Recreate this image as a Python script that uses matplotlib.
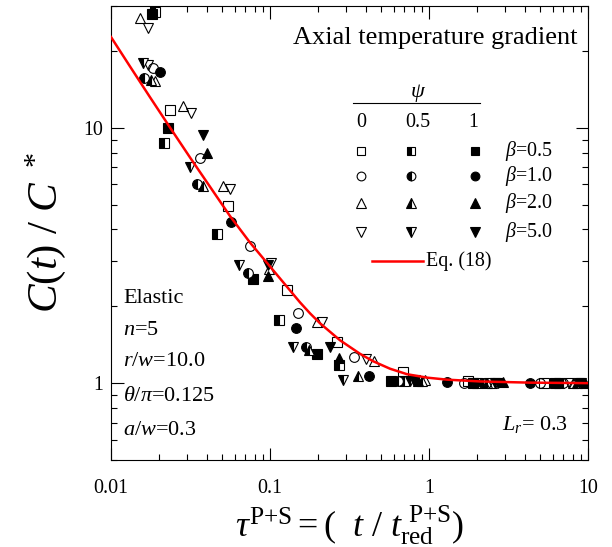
import matplotlib
matplotlib.use('Agg')
from matplotlib import pyplot as plt

plt.rcParams['font.family'] = ['Liberation Serif', 'DejaVu Serif']
plt.rcParams['mathtext.fontset'] = 'custom'
plt.rcParams['mathtext.rm'] = 'Liberation Serif'
plt.rcParams['mathtext.it'] = 'Liberation Serif:italic'
plt.rcParams['mathtext.bf'] = 'Liberation Serif:bold'

# Eq. (18) curve
eq_tau = [0.01, 0.01317, 0.01759, 0.0235, 0.03139, 0.04195, 0.05603, 0.07483,
          0.1, 0.1336, 0.1544, 0.1785, 0.2063, 0.2756, 0.3681, 0.4444, 0.5685,
          0.7271, 0.9714, 1.298, 2.093, 4.317, 10.0]
eq_c = [22.68, 17.39, 13.18, 10.03, 7.656, 5.877, 4.512, 3.554,
        2.864, 2.308, 2.072, 1.877, 1.716, 1.472, 1.303, 1.219, 1.139,
        1.084, 1.051, 1.032, 1.0154, 1.0045, 1.0]

# beta = 0.5 (squares)
b05_p0_tau = [0.0235, 0.0544, 0.128, 0.264, 0.686, 1.75, 5.3]
b05_p0_c = [11.7, 4.96, 2.31, 1.45, 1.11, 1.02, 1.0]
b05_p05_tau = [0.0188, 0.0215, 0.0464, 0.114, 0.270, 0.70, 2.0, 6.2]
b05_p05_c = [28.3, 8.7, 3.85, 1.76, 1.18, 1.02, 1.0, 1.0]
b05_p1_tau = [0.0180, 0.0228, 0.078, 0.197, 0.58, 1.9, 6.6]
b05_p1_c = [28.0, 10.0, 2.55, 1.30, 1.02, 1.0, 1.0]

# beta = 1.0 (circles)
b10_p0_tau = [0.0184, 0.0363, 0.075, 0.150, 0.338, 1.65, 5.0]
b10_p0_c = [17.2, 7.6, 3.43, 1.89, 1.27, 1.0, 1.0]
b10_p05_tau = [0.0161, 0.0347, 0.0728, 0.168, 0.64, 2.2, 7.0]
b10_p05_c = [15.7, 6.0, 2.69, 1.39, 1.02, 1.0, 1.0]
b10_p1_tau = [0.0203, 0.0567, 0.146, 0.42, 1.30, 4.3]
b10_p1_c = [16.6, 4.26, 1.65, 1.065, 1.01, 1.0]

# beta = 2.0 (up triangles)
b20_p0_tau = [0.0152, 0.0190, 0.0284, 0.0506, 0.099, 0.197, 0.45, 0.95, 2.5, 8.0]
b20_p0_c = [26.9, 15.3, 12.2, 5.9, 2.8, 1.73, 1.22, 1.03, 1.0, 1.0]
b20_p05_tau = [0.0178, 0.0379, 0.176, 0.357, 0.9, 2.3, 8.5]
b20_p05_c = [15.4, 5.94, 1.35, 1.07, 1.02, 1.0, 1.0]
b20_p1_tau = [0.0401, 0.0972, 0.27, 0.85, 2.9, 9.6]
b20_p1_c = [7.98, 2.62, 1.26, 1.02, 1.01, 1.0]

# beta = 5.0 (down triangles)
b50_p0_tau = [0.0171, 0.0172, 0.0318, 0.0559, 0.101, 0.212, 0.40, 0.82, 2.4, 7.6]
b50_p0_c = [24.5, 17.6, 11.4, 5.74, 2.95, 1.73, 1.24, 1.03, 1.0, 1.0]
b50_p05_tau = [0.0159, 0.0314, 0.0637, 0.139, 0.287, 0.76, 2.6, 8.8]
b50_p05_c = [17.9, 7.05, 2.89, 1.39, 1.03, 1.02, 1.0, 1.0]
b50_p1_tau = [0.0379, 0.0972, 0.239, 0.80, 2.7, 9.1]
b50_p1_c = [9.4, 2.91, 1.39, 1.02, 1.0, 1.0]

beta_labels = ['0.5', '1.0', '2.0', '5.0']
psi_labels = ['0', '0.5', '1']
markers = ['s', 'o', '^', 'v']

series = [
    [(b05_p0_tau, b05_p0_c), (b05_p05_tau, b05_p05_c), (b05_p1_tau, b05_p1_c)],
    [(b10_p0_tau, b10_p0_c), (b10_p05_tau, b10_p05_c), (b10_p1_tau, b10_p1_c)],
    [(b20_p0_tau, b20_p0_c), (b20_p05_tau, b20_p05_c), (b20_p1_tau, b20_p1_c)],
    [(b50_p0_tau, b50_p0_c), (b50_p05_tau, b50_p05_c), (b50_p1_tau, b50_p1_c)],
]


def marker_style(mk, j, size):
    # j: 0 open, 1 half (left filled), 2 filled
    st = dict(marker=mk, linestyle='none', markeredgecolor='black',
              markeredgewidth=0.8, markersize=size)
    if j == 0:
        st['markerfacecolor'] = 'none'
    elif j == 1:
        st['markerfacecolor'] = 'black'
        st['fillstyle'] = 'left'
        st['markerfacecoloralt'] = 'white'
    else:
        st['markerfacecolor'] = 'black'
    return st


fig = plt.figure(figsize=(6.12, 5.47), dpi=100)
ax = fig.add_axes([111 / 612, 1 - 460 / 547, 477 / 612, 454 / 547])

for i, mk in enumerate(markers):
    sz = 7.8 if mk in ('^', 'v') else 7.0
    for j in range(3):
        tx, cy = series[i][j]
        ax.plot(tx, cy, **marker_style(mk, j, sz))

ax.plot(eq_tau, eq_c, color='red', linewidth=1.8, zorder=5)

ax.set_xscale('log')
ax.set_yscale('log')
ax.set_xlim(0.01, 10)
ax.set_ylim(0.5, 30)
ax.set_xticks([0.01, 0.1, 1, 10])
ax.set_xticklabels(['0.01', '0.1', '1', '10'])
ax.set_yticks([1, 10])
ax.set_yticklabels(['1', '10'])
ax.tick_params(which='both', direction='in', top=True, right=True, labelsize=14.4)
ax.tick_params(which='major', length=9, width=0.8)
ax.tick_params(which='minor', length=4.5, width=0.8)
ax.tick_params(axis='x', pad=14)
ax.tick_params(axis='y', pad=6)
for s in ax.spines.values():
    s.set_linewidth(0.8)

ax.set_xlabel(r'$\tau^{\mathrm{P{+}S}}=(\ \ t\ /\ t_{\mathrm{red}}^{\ \mathrm{P{+}S}})$',
              fontsize=26, labelpad=3)
ax.set_ylabel(r'$C(t)\ /\ C^{\ *}$', fontsize=31, labelpad=11)

# title text
ax.text(0.979, 0.930, 'Axial temperature gradient', transform=ax.transAxes,
        ha='right', va='center', fontsize=19)

# legend table
col_x = [0.524, 0.629, 0.763]
row_y = [0.681, 0.626, 0.566, 0.502]
ax.text(0.644, 0.808, r'$\psi$', transform=ax.transAxes, ha='center', va='center', fontsize=16)
ax.plot([0.507, 0.774], [0.786, 0.786], color='black', linewidth=0.8,
        transform=ax.transAxes, clip_on=False)
for j, lab in enumerate(psi_labels):
    ax.text([0.524, 0.644, 0.759][j], 0.744, lab, transform=ax.transAxes,
            ha='center', va='center', fontsize=14.4)
for i, mk in enumerate(markers):
    sz = 7 if mk in ('^', 'v') else 6.3
    for j in range(3):
        ax.plot([col_x[j]], [row_y[i]], transform=ax.transAxes, clip_on=False,
                **marker_style(mk, j, sz))
    ax.text(0.826, row_y[i], r'$\beta$=' + beta_labels[i], transform=ax.transAxes,
            ha='left', va='center', fontsize=14.4)
ax.plot([0.547, 0.654], [0.438, 0.438], color='red', linewidth=1.8,
        transform=ax.transAxes)
ax.text(0.660, 0.438, 'Eq. (18)', transform=ax.transAxes, ha='left', va='center',
        fontsize=14.4)

# condition text
cond = ['Elastic', r'$n$=5', r'$r/w$=10.0', r'$\theta/\pi$=0.125', r'$a/w$=0.3']
cond_y = [0.355, 0.286, 0.216, 0.139, 0.066]
for t, yy in zip(cond, cond_y):
    ax.text(0.025, yy, t, transform=ax.transAxes, ha='left', va='center', fontsize=16)

ax.text(0.958, 0.079, r'$L_r$= 0.3', transform=ax.transAxes, ha='right',
        va='center', fontsize=16)

fig.savefig('out.png', dpi=100)
